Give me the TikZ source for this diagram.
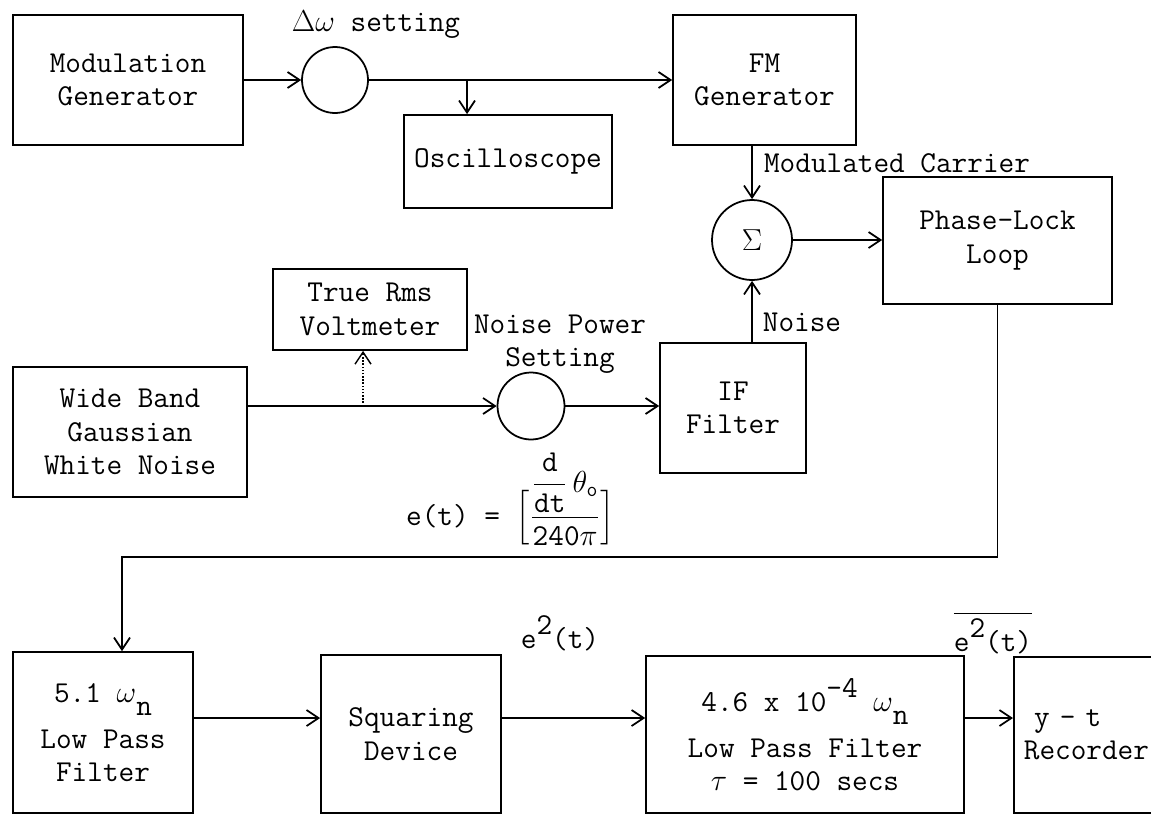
\documentclass[tikz,border=0pt]{standalone}
\usepackage{amsmath}
\usepackage{fontspec}
\usetikzlibrary{arrows.meta}
\tikzstyle{block} = [draw, line width=1pt, align=center, inner sep=2pt]
\tikzstyle{knob} = [draw, line width=1pt, circle, inner sep=0pt]
\tikzstyle{arrow} = [line width=1pt, ->, >={Straight Barb[length=2.4mm,width=3.2mm]}]
\tikzstyle{tapline} = [line width=0.8pt, densely dotted, ->, >={Straight Barb[length=2.4mm,width=3.2mm]}]
\newcommand{\subtt}[1]{\raisebox{-1ex}{#1}}
\newcommand{\suptt}[1]{\raisebox{1.1ex}{#1}}

\begin{document}
\begin{tikzpicture}[x=0.02cm,y=-0.02cm,every node/.style={font=\ttfamily\fontsize{17.28}{19}\selectfont}]
    \useasboundingbox (0,0) rectangle (1151,815);
    \node[block, minimum width=4.6cm, minimum height=2.6cm] (modgen) at (128,80) {Modulation\\Generator};
    \node[knob, minimum size=1.32cm] (dw) at (335,80) {};
    \node (dwlab) at (376,25) {$\Delta\omega$ setting};
    \node[block, minimum width=3.66cm, minimum height=2.6cm] (fm) at (764.5,80) {FM\\Generator};
    \node[block, minimum width=4.16cm, minimum height=1.86cm] (osc) at (508,161.5) {Oscilloscope};
    \node[knob, minimum size=1.6cm] (sum) at (752,240) {$\Sigma$};
    \node (mclab) at (897,163) {Modulated Carrier};
    \node[block, minimum width=4.58cm, minimum height=2.54cm] (pll) at (997.5,240.5) {Phase-Lock\\Loop};
    \node[block, minimum width=3.88cm, minimum height=1.62cm] (volt) at (370,309.5) {True Rms\\Voltmeter};
    \node[block, minimum width=4.68cm, minimum height=2.6cm] (wgn) at (130,432) {Wide Band\\Gaussian\\White Noise};
    \node[knob, minimum size=1.34cm] (np) at (531,406) {};
    \node[align=center] (nplab) at (560,344) {Noise Power\\Setting};
    \node[block, minimum width=2.92cm, minimum height=2.6cm] (iff) at (733,408) {IF\\Filter};
    \node (nlab) at (802,322) {Noise};
    \node[anchor=base west] (eq) at (400,525) {e(t) = $\Big[\dfrac{\dfrac{\mathtt{d}}{\mathtt{dt}}\,\theta_{\mathtt{o}}}{\mathtt{240}\pi}\Big]$};
    \node[block, minimum width=3.6cm, minimum height=3.22cm] (lpfa) at (103,732.5) {5.1 $\omega$\subtt{n}\\[7pt]Low Pass\\Filter};
    \node[block, minimum width=3.6cm, minimum height=3.16cm] (sq) at (411,734) {Squaring\\Device};
    \node[block, minimum width=6.36cm, minimum height=3.14cm] (lpfb) at (805,734.5) {4.6 x 10\suptt{-4} $\omega$\subtt{n}\\[7pt]Low Pass Filter\\$\tau$ = 100 secs};
    \node[block, anchor=west, minimum width=4cm, minimum height=3.12cm, text width=3.6cm, inner xsep=0.2cm, align=left] (rec) at (1013,735) {\ y - t\\Recorder};
    \node (sqlab) at (560,633) {e\suptt{2}(t)};
    \node (avglab) at (993,633) {$\overline{\mbox{e\suptt{2}(t)}}$};
    \draw[arrow] (modgen.east) -- (dw.west);
    \draw[arrow] (dw.east) -- (fm.west);
    \coordinate (tap1) at (467,80);
    \draw[arrow] (tap1) -- (tap1 |- osc.north);
    \draw[arrow] (sum.north |- fm.south) -- (sum.north);
    \draw[arrow] (sum.south |- iff.north) -- (sum.south);
    \draw[arrow] (sum.east) -- (sum.east -| pll.west);
    \draw[arrow] (np.west -| wgn.east) -- (np.west);
    \coordinate (tap2) at (363,406);
    \draw[tapline] (tap2) -- (tap2 |- volt.south);
    \draw[arrow] (np.east) -- (np.east -| iff.west);
    \coordinate (fb) at (122,557);
    \draw[arrow] (pll.south) |- (fb) -- (fb |- lpfa.north);
    \coordinate (row) at (0,718);
    \foreach \a/\b in {lpfa/sq,sq/lpfb,lpfb/rec}{
        \draw[arrow] (\a.east |- row) -- (\b.west |- row);
    }
\end{tikzpicture}
\end{document}
